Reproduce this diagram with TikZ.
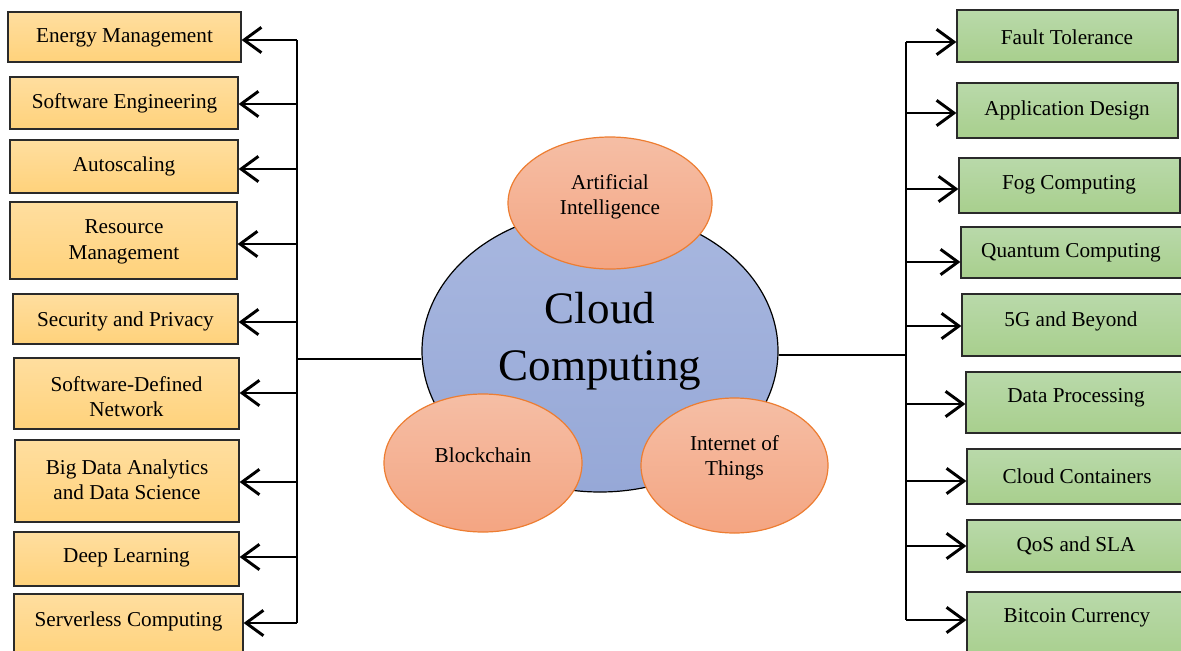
\documentclass[tikz,border=0pt]{standalone}
\usepackage{fontspec}
\setmainfont{Liberation Serif}
\usetikzlibrary{arrows.meta,shapes.geometric}
\definecolor{oTop}{HTML}{FFDE9F}
\definecolor{oBot}{HTML}{FFD27B}
\definecolor{gTop}{HTML}{B9D9AA}
\definecolor{gBot}{HTML}{A8CF8D}
\definecolor{bTop}{HTML}{A8B7DF}
\definecolor{bBot}{HTML}{96A8D7}
\definecolor{sTop}{HTML}{F5BEA5}
\definecolor{sBot}{HTML}{F4A582}
\definecolor{sBorder}{HTML}{ED7D31}
\definecolor{boxBorder}{HTML}{2A2A2A}
\begin{document}
\begin{tikzpicture}[x=0.75pt,y=-0.75pt,
  obox/.style={draw=boxBorder, line width=0.9pt, top color=oTop, bottom color=oBot, inner sep=0pt},
  gbox/.style={draw=boxBorder, line width=0.9pt, top color=gTop, bottom color=gBot, inner sep=0pt},
  lbl/.style={font=\fontsize{15.9}{18.9}\selectfont, align=center, inner sep=0pt, yshift=-2.2pt},
  bigl/.style={font=\fontsize{33.8}{42.7}\selectfont, align=center, inner sep=0pt, yshift=-3pt},
  link/.style={line width=2.2pt, draw=black},
  arr/.style={line width=2.2pt, draw=black, -{Straight Barb[length=13pt,width=19pt,line width=2.2pt]}},
  satl/.style={ellipse, draw=sBorder, line width=0.9pt, top color=sTop, bottom color=sBot, inner sep=0pt},
  hub/.style={ellipse, draw=black, line width=0.9pt, top color=bTop, bottom color=bBot, inner sep=0pt}
]
\useasboundingbox (0,0) rectangle (1181,650);
\begin{scope}
\clip (0,0) rectangle (1181,650);

% central hub and satellites
\node[hub, minimum width=356*0.75pt, minimum height=282*0.75pt] (hub) at (600,351) {};
\node[bigl] (hubt) at (600,337) {Cloud\\Computing};
\node[satl, minimum width=204*0.75pt, minimum height=132*0.75pt] (ai) at (610,203) {};
\node[lbl] (ait) at (610,194) {Artificial\\Intelligence};
\node[satl, minimum width=198*0.75pt, minimum height=138*0.75pt] (bc) at (483,463) {};
\node[lbl] (bct) at (483,452) {Blockchain};
\node[satl, minimum width=187*0.75pt, minimum height=135*0.75pt] (iot) at (734.5,465.5) {};
\node[lbl] (iott) at (734.5,455) {Internet of\\Things};

% left boxes
\node[obox, minimum width=233*0.75pt, minimum height=50*0.75pt] (L1) at (124.5,37) {};
\node[lbl] (L1t) at (124.5,35) {Energy Management};
\node[obox, minimum width=228*0.75pt, minimum height=52*0.75pt] (L2) at (124,103) {};
\node[lbl] (L2t) at (124.5,100) {Software Engineering};
\node[obox, minimum width=228*0.75pt, minimum height=53*0.75pt] (L3) at (124,166.5) {};
\node[lbl] (L3t) at (124,163) {Autoscaling};
\node[obox, minimum width=227*0.75pt, minimum height=77*0.75pt] (L4) at (123.5,240.5) {};
\node[lbl] (L4t) at (124,239) {Resource\\Management};
\node[obox, minimum width=225*0.75pt, minimum height=50*0.75pt] (L5) at (125.5,319) {};
\node[lbl] (L5t) at (125.5,318) {Security and Privacy};
\node[obox, minimum width=225*0.75pt, minimum height=71*0.75pt] (L6) at (126.5,393.5) {};
\node[lbl] (L6t) at (126.5,394) {Software-Defined\\Network};
\node[obox, minimum width=224*0.75pt, minimum height=82*0.75pt] (L7) at (127,481) {};
\node[lbl] (L7t) at (127,477) {Big Data Analytics\\and Data Science};
\node[obox, minimum width=225*0.75pt, minimum height=54*0.75pt] (L8) at (126.5,559) {};
\node[lbl] (L8t) at (126.5,555) {Deep Learning};
\node[obox, minimum width=229*0.75pt, minimum height=66*0.75pt] (L9) at (128.5,627) {};
\node[lbl] (L9t) at (128.5,618) {Serverless Computing};

% right boxes
\node[gbox, minimum width=221*0.75pt, minimum height=52*0.75pt] (R1) at (1067.5,36) {};
\node[lbl] (R1t) at (1067,34) {Fault Tolerance};
\node[gbox, minimum width=221*0.75pt, minimum height=55*0.75pt] (R2) at (1067.5,110.5) {};
\node[lbl] (R2t) at (1067,107) {Application Design};
\node[gbox, minimum width=221*0.75pt, minimum height=55*0.75pt] (R3) at (1069.5,185.5) {};
\node[lbl] (R3t) at (1069,182) {Fog Computing};
\node[gbox, minimum width=224*0.75pt, minimum height=51*0.75pt] (R4) at (1073,252.5) {};
\node[lbl] (R4t) at (1071,250) {Quantum Computing};
\node[gbox, minimum width=224*0.75pt, minimum height=62*0.75pt] (R5) at (1074,325) {};
\node[lbl] (R5t) at (1071,318) {5G and Beyond};
\node[gbox, minimum width=220*0.75pt, minimum height=61*0.75pt] (R6) at (1076,402.5) {};
\node[lbl] (R6t) at (1076,395) {Data Processing};
\node[gbox, minimum width=219*0.75pt, minimum height=55*0.75pt] (R7) at (1076.5,476.5) {};
\node[lbl] (R7t) at (1077,473) {Cloud Containers};
\node[gbox, minimum width=219*0.75pt, minimum height=52*0.75pt] (R8) at (1076.5,546) {};
\node[lbl] (R8t) at (1076,543) {QoS and SLA};
\node[gbox, minimum width=219*0.75pt, minimum height=68*0.75pt] (R9) at (1076.5,626) {};
\node[lbl] (R9t) at (1077,615) {Bitcoin Currency};
\end{scope}

% left bus
\coordinate (lhub) at (297,359);
\coordinate (lb1) at (297,40);
\coordinate (lb2) at (297,104);
\coordinate (lb3) at (297,169);
\coordinate (lb4) at (297,244);
\coordinate (lb5) at (297,322);
\coordinate (lb6) at (297,393);
\coordinate (lb7) at (297,482);
\coordinate (lb8) at (297,557);
\coordinate (lb9) at (297,623);
\draw[link] (lb1) -- (lb9);
\draw[link] (lhub -| hub.west) -- (lhub);
\foreach \i in {1,...,9} {
  \draw[arr] (lb\i) -- (lb\i -| L\i.east);
}

% right bus
\coordinate (rhub) at (906,355);
\coordinate (rb1) at (906,42);
\coordinate (rb2) at (906,113);
\coordinate (rb3) at (906,189);
\coordinate (rb4) at (906,262);
\coordinate (rb5) at (906,326);
\coordinate (rb6) at (906,404);
\coordinate (rb7) at (906,481);
\coordinate (rb8) at (906,546);
\coordinate (rb9) at (906,620);
\draw[link] (rb1) -- (rb9);
\draw[link] (rhub -| hub.east) -- (rhub);
\foreach \i in {1,...,9} {
  \draw[arr] (rb\i) -- (rb\i -| R\i.west);
}
\end{tikzpicture}
\end{document}
